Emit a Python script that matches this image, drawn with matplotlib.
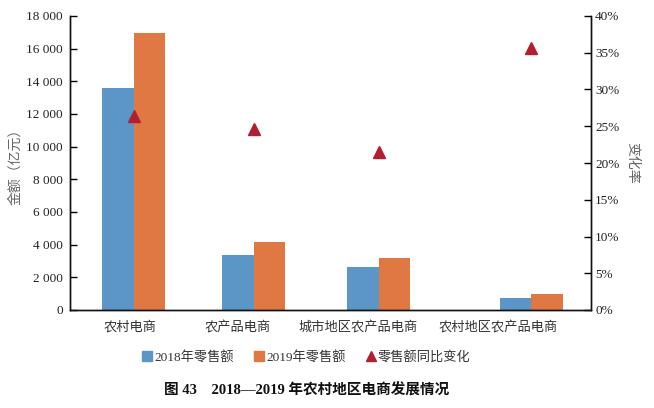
import matplotlib
matplotlib.use("Agg")
import matplotlib.pyplot as plt
from matplotlib.lines import Line2D

plt.rcParams['font.family'] = ['Liberation Serif', 'Noto Sans CJK SC', 'DejaVu Sans']

categories = ['农村电商', '农产品电商', '城市地区农产品电商', '农村地区农产品电商']
sales_2018 = [13600, 3370, 2630, 730]
sales_2019 = [16950, 4160, 3180, 970]
change_pct = [26.4, 24.6, 21.5, 35.6]
left_ticks = [0, 2000, 4000, 6000, 8000, 10000, 12000, 14000, 16000, 18000]
left_ticklabels = ['0', '2 000', '4 000', '6 000', '8 000', '10 000', '12 000', '14 000', '16 000', '18 000']
right_ticks = [0, 5, 10, 15, 20, 25, 30, 35, 40]
right_ticklabels = ['%d%%' % v for v in right_ticks]

# layout (category-axis units)
group_pos = [0.491, 1.409, 2.372, 3.543]
label_pos = [0.461, 1.290, 2.211, 3.286]
bw = 0.242

c18 = '#5B96C7'
c19 = '#E07843'
ctri = '#B21F30'

fig = plt.figure(figsize=(6.54, 4.08), dpi=100)
ax = fig.add_axes([70/654, 1-310/408, 521/654, 294/408])
ax2 = ax.twinx()

ax.bar([p - bw/2 for p in group_pos], sales_2018, width=bw, color=c18, zorder=2)
ax.bar([p + bw/2 for p in group_pos], sales_2019, width=bw, color=c19, zorder=2)
ax2.plot(group_pos, change_pct, linestyle='none', marker='^', ms=8.5, color=ctri, zorder=3)

ax.set_xlim(0, 4)
ax.set_ylim(0, 18000)
ax2.set_ylim(0, 40)
ax.set_yticks(left_ticks)
ax.set_yticklabels(left_ticklabels, fontsize=9.5)
ax2.set_yticks(right_ticks)
ax2.set_yticklabels(right_ticklabels, fontsize=9.5)
ax.set_xticks(label_pos)
ax.set_xticklabels(categories, fontsize=9.5, color='#333333')
ax.tick_params(axis='x', length=0, pad=8)
ax.tick_params(axis='y', direction='in', length=5, width=1, pad=5, labelcolor='#222222')
ax2.tick_params(axis='y', direction='in', length=5, width=1, pad=3, labelcolor='#222222')

for a in (ax, ax2):
    a.spines['top'].set_visible(False)
    for s in ('left', 'right', 'bottom'):
        a.spines[s].set_color('#111111')
        a.spines[s].set_linewidth(1.0)

fig.text(15/654, 1-163/408, '金额（亿元）', rotation=90, ha='center', va='center',
         fontsize=10, color='#666666')
fig.text(632/654, 1-163/408, '变化率', rotation=-90, ha='center', va='center',
         fontsize=10, color='#666666')

handles = [
    Line2D([], [], linestyle='none', marker='s', ms=7, color=c18),
    Line2D([], [], linestyle='none', marker='s', ms=7, color=c19),
    Line2D([], [], linestyle='none', marker='^', ms=7, color=ctri),
]
labels = ['2018年零售额', '2019年零售额', '零售额同比变化']
fig.legend(handles, labels, loc='center', bbox_to_anchor=(306/654, 1-357/408), ncol=3,
           frameon=False, fontsize=9.5, handletextpad=0.05, columnspacing=1.5,
           handlelength=0.9, labelcolor='#333333')

fig.text(307/654, 1-390/408, '图 43　2018—2019 年农村地区电商发展情况', ha='center', va='center',
         fontsize=10.5, fontweight='bold', color='#111111')

fig.savefig('out.png', dpi=100)
